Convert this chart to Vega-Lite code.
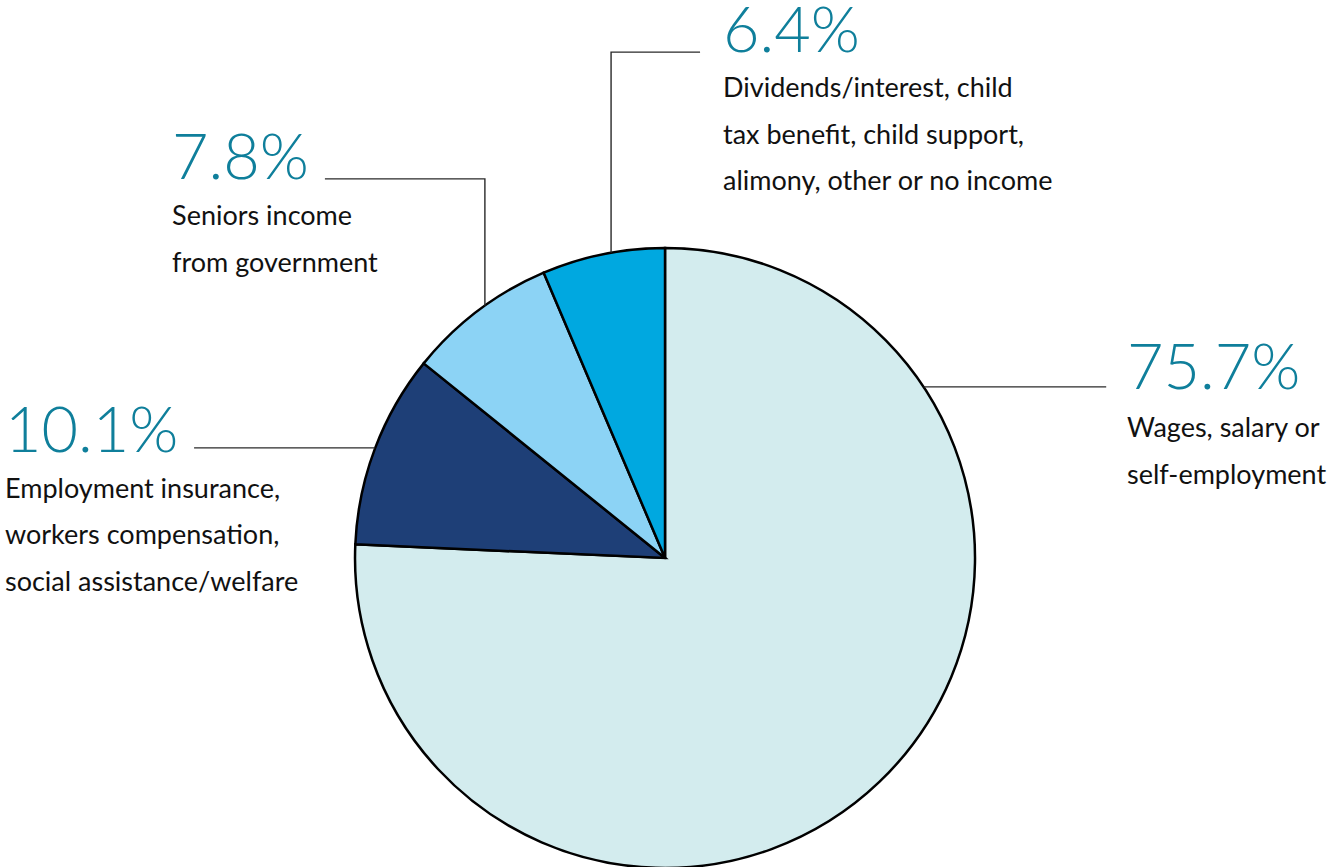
{
  "$schema": "https://vega.github.io/schema/vega-lite/v6.json",
  "width": 1335,
  "height": 867,
  "autosize": {"type": "none"},
  "padding": 0,
  "background": "white",
  "config": {"view": {"stroke": null}},
  "datasets": {
    "slices": [
      {"source": "Wages, salary or self-employment", "share": 75.7, "rank": 1},
      {"source": "Employment insurance, workers compensation, social assistance/welfare", "share": 10.1, "rank": 2},
      {"source": "Seniors income from government", "share": 7.8, "rank": 3},
      {"source": "Dividends/interest, child tax benefit, child support, alimony, other or no income", "share": 6.4, "rank": 4}
    ],
    "leaders": [
      {"id": "div", "seq": 1, "x": -17.4, "y": 98.5},
      {"id": "div", "seq": 2, "x": -17.4, "y": 163.2},
      {"id": "div", "seq": 3, "x": 11.3, "y": 163.2},
      {"id": "sen", "seq": 1, "x": -58.1, "y": 81.4},
      {"id": "sen", "seq": 2, "x": -58.1, "y": 122.3},
      {"id": "sen", "seq": 3, "x": -109.7, "y": 122.3},
      {"id": "emp", "seq": 1, "x": -93.5, "y": 35.5},
      {"id": "emp", "seq": 2, "x": -151.9, "y": 35.5},
      {"id": "wag", "seq": 1, "x": 83.4, "y": 55.2},
      {"id": "wag", "seq": 2, "x": 142.3, "y": 55.2}
    ],
    "labels": [
      {"pct": "6.4%", "desc": "Dividends/interest, child\ntax benefit, child support,\nalimony, other or no income", "x": 18.7, "y": 163.2, "descY": 148.7},
      {"pct": "7.8%", "desc": "Seniors income\nfrom government", "x": -159.0, "y": 122.3, "descY": 107.4},
      {"pct": "10.1%", "desc": "Employment insurance,\nworkers compensation,\nsocial assistance/welfare", "x": -212.9, "y": 34.2, "descY": 19.4},
      {"pct": "75.7%", "desc": "Wages, salary or\nself-employment", "x": 149.0, "y": 54.5, "descY": 39.0}
    ]
  },
  "layer": [
    {
      "data": {"name": "slices"},
      "mark": {"type": "arc", "radius": 310, "stroke": "black", "strokeWidth": 2.5},
      "encoding": {
        "theta": {"field": "share", "type": "quantitative", "stack": true},
        "order": {"field": "rank", "type": "quantitative"},
        "color": {
          "field": "source",
          "type": "nominal",
          "scale": {
            "domain": [
              "Wages, salary or self-employment",
              "Employment insurance, workers compensation, social assistance/welfare",
              "Seniors income from government",
              "Dividends/interest, child tax benefit, child support, alimony, other or no income"
            ],
            "range": ["#d3ecee", "#1e3f77", "#8cd3f5", "#00a8e0"]
          },
          "legend": null
        },
        "x": {"datum": 0, "type": "quantitative", "scale": {"domain": [-214.5, 216.1], "nice": false, "zero": false}, "axis": null},
        "y": {"datum": 0, "type": "quantitative", "scale": {"domain": [-99.7, 180], "nice": false, "zero": false}, "axis": null}
      }
    },
    {
      "data": {"name": "leaders"},
      "mark": {"type": "line", "stroke": "#2a2a2a", "strokeWidth": 1.4},
      "encoding": {
        "x": {"field": "x", "type": "quantitative", "scale": {"domain": [-214.5, 216.1], "nice": false, "zero": false}, "axis": null},
        "y": {"field": "y", "type": "quantitative", "scale": {"domain": [-99.7, 180], "nice": false, "zero": false}, "axis": null},
        "detail": {"field": "id"},
        "order": {"field": "seq", "type": "quantitative"}
      }
    },
    {
      "data": {"name": "labels"},
      "mark": {"type": "text", "align": "left", "baseline": "alphabetic", "font": "Lato", "fontWeight": 300, "fontSize": 63, "color": "#0f7f9b"},
      "encoding": {
        "x": {"field": "x", "type": "quantitative", "scale": {"domain": [-214.5, 216.1], "nice": false, "zero": false}, "axis": null},
        "y": {"field": "y", "type": "quantitative", "scale": {"domain": [-99.7, 180], "nice": false, "zero": false}, "axis": null},
        "text": {"field": "pct"}
      }
    },
    {
      "data": {"name": "labels"},
      "mark": {"type": "text", "align": "left", "baseline": "alphabetic", "font": "Lato", "fontSize": 27, "color": "#111111", "lineBreak": "\n", "lineHeight": 46.5},
      "encoding": {
        "x": {"field": "x", "type": "quantitative", "scale": {"domain": [-214.5, 216.1], "nice": false, "zero": false}, "axis": null},
        "y": {"field": "descY", "type": "quantitative", "scale": {"domain": [-99.7, 180], "nice": false, "zero": false}, "axis": null},
        "text": {"field": "desc"}
      }
    }
  ]
}
